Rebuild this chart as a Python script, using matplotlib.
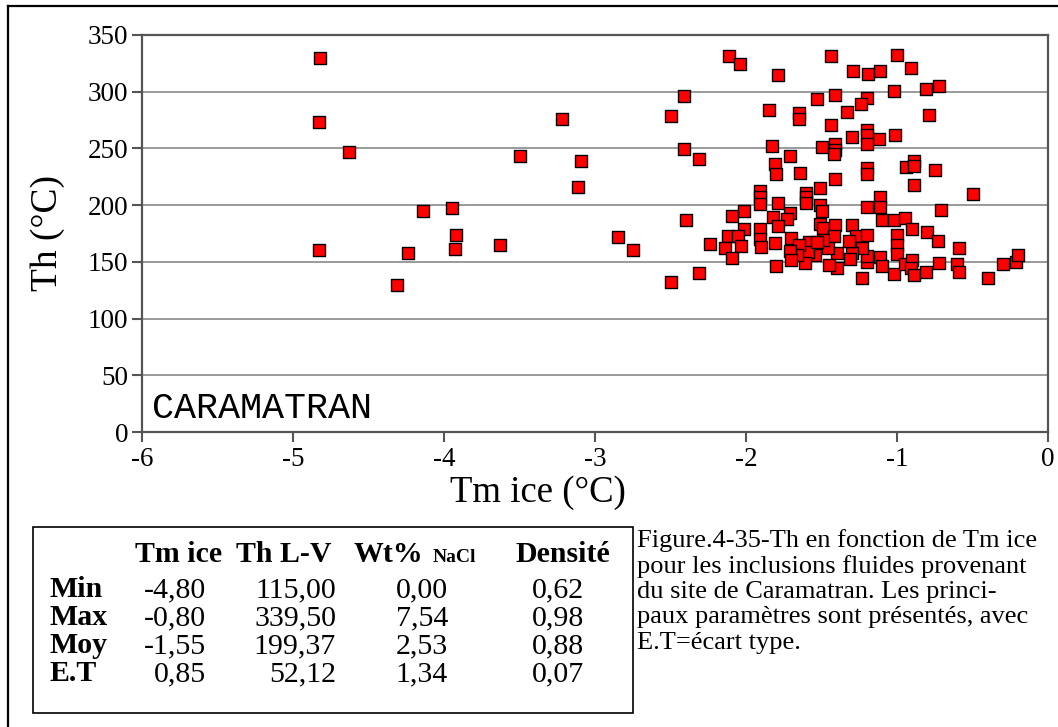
import matplotlib
matplotlib.use("Agg")
import matplotlib.pyplot as plt
from matplotlib.lines import Line2D
from matplotlib.patches import Rectangle

# Tm ice (°C) vs Th (°C), Caramatran fluid inclusions
tm_ice = [
    -4.82, -4.83, -4.63, -4.83, -4.24, -4.14, -4.31, -3.95, -3.92, -3.93,
    -3.63, -3.50, -2.11, -2.04, -1.79, -2.41, -3.22, -2.50, -1.44, -1.29,
    -1.19, -1.11, -1.00, -0.91, -1.02, -0.81, -0.72, -1.41, -1.53, -1.20,
    -1.24, -1.33, -1.85, -1.65, -1.65, -1.44, -0.79, -1.20, -1.20, -1.30,
    -1.12, -1.01, -1.20, -1.41, -1.41, -1.42, -1.50, -1.83, -2.41, -2.31,
    -3.09, -3.11, -1.71, -1.81, -1.80, -1.64, -1.41, -1.51, -1.20, -1.20,
    -0.94, -0.89, -0.89, -0.75, -0.89, -0.50, -1.91, -1.91, -1.91, -1.60,
    -1.60, -1.60, -1.79, -1.51, -1.50, -1.20, -1.11, -1.11, -0.71, -2.01,
    -2.09, -2.40, -1.71, -1.73, -1.82, -1.79, -2.01, -1.91, -1.91, -1.90,
    -2.12, -2.05, -2.03, -2.14, -2.09, -2.24, -2.85, -2.75, -2.31, -2.50,
    -1.81, -1.70, -1.80, -1.51, -1.49, -1.41, -1.42, -1.30, -1.27, -1.20,
    -1.10, -1.02, -0.95, -0.90, -0.80, -0.73, -0.59, -1.00, -1.00, -1.00,
    -1.11, -1.10, -1.02, -0.95, -0.90, -0.91, -0.89, -0.81, -0.72, -0.60,
    -0.59, -0.40, -0.30, -0.21, -0.20, -1.23, -1.20, -1.20, -1.23, -1.30,
    -1.31, -1.32, -1.40, -1.40, -1.45, -1.46, -1.49, -1.54, -1.58, -1.59,
    -1.61, -1.65, -1.66, -1.71, -1.70, -1.53,
]
th = [
    329.5, 273.5, 246.6, 160.1, 157.4, 195.0, 129.3, 197.6, 173.8, 160.9,
    164.8, 243.0, 331.3, 324.8, 314.9, 296.1, 276.2, 278.5, 331.9, 318.4,
    315.5, 318.7, 332.5, 321.3, 300.2, 302.0, 304.6, 296.7, 293.2, 294.3,
    289.1, 282.0, 283.8, 281.2, 275.6, 270.9, 279.1, 266.5, 261.8, 260.3,
    258.6, 262.1, 253.9, 253.6, 248.3, 244.8, 251.0, 252.1, 249.2, 241.0,
    238.6, 216.4, 243.3, 236.3, 227.5, 228.7, 222.8, 215.2, 232.8, 227.8,
    233.4, 238.9, 234.5, 231.0, 217.5, 209.9, 212.8, 207.6, 201.1, 210.5,
    207.0, 201.7, 201.7, 200.5, 194.7, 198.8, 207.0, 198.2, 195.8, 194.7,
    190.6, 187.0, 193.5, 188.2, 189.4, 181.2, 179.4, 178.8, 170.0, 163.0,
    172.4, 173.0, 163.6, 162.4, 153.6, 165.9, 171.8, 160.1, 140.1, 131.9,
    166.5, 170.6, 146.0, 183.8, 179.7, 182.4, 173.0, 182.4, 172.4, 174.1,
    187.0, 187.0, 188.8, 178.8, 175.9, 168.3, 161.8, 173.6, 165.3, 157.1,
    154.2, 146.6, 139.5, 148.3, 151.3, 144.2, 138.4, 140.7, 148.9, 147.8,
    141.3, 136.0, 147.8, 149.5, 156.0, 135.4, 150.1, 154.8, 161.8, 157.7,
    152.4, 168.3, 157.7, 144.2, 147.2, 162.4, 169.7, 156.0, 167.7, 158.9,
    148.9, 165.3, 156.0, 159.5, 151.9, 167.7,
]

x_ticks = [-6, -5, -4, -3, -2, -1, 0]
y_ticks = [0, 50, 100, 150, 200, 250, 300, 350]

# summary table
row_names = ["Min", "Max", "Moy", "E.T"]
col_tm = ["-4,80", "-0,80", "-1,55", "0,85"]
col_th = ["115,00", "339,50", "199,37", "52,12"]
col_wt = ["0,00", "7,54", "2,53", "1,34"]
col_dens = ["0,62", "0,98", "0,88", "0,07"]

caption_lines = [
    "Figure.4-35-Th en fonction de Tm ice",
    "pour les inclusions fluides provenant",
    "du site de Caramatran. Les princi-",
    "paux paramètres sont présentés, avec",
    "E.T=écart type.",
]

plt.rcParams["font.family"] = ["Liberation Serif", "DejaVu Serif"]

W, H = 1058, 727
fig = plt.figure(figsize=(W / 100, H / 100), dpi=100)


def fx(px):
    return px / W


def fy(py):
    return 1 - py / H


ax = fig.add_axes([fx(142), fy(432), fx(1048) - fx(142), fy(35) - fy(432)])
ax.set_xlim(-6, 0)
ax.set_ylim(0, 350)
ax.set_xticks(x_ticks)
ax.set_yticks(y_ticks)
ax.set_xticklabels([str(v) for v in x_ticks])
ax.set_yticklabels([str(v) for v in y_ticks])
ax.tick_params(direction="out", length=7, width=1.5, color="#555555",
               labelsize=19.5, pad=3)
ax.tick_params(axis="x", pad=4)
for v in y_ticks[1:-1]:
    ax.axhline(v, color="#9a9a9a", lw=1.4, zorder=0)
for s in ax.spines.values():
    s.set_color("#555555")
    s.set_linewidth(1.6)

ax.scatter(tm_ice, th, marker="s", s=72, c="#ff0000", edgecolors="#000000",
           linewidths=1.0, zorder=3, clip_on=False)

ax.text(0.011, 0.058, "CARAMATRAN", transform=ax.transAxes,
        family="Liberation Mono", fontsize=26.5, va="center", ha="left")

fig.text(fx(48), fy(233), "Th (°C)", rotation=90, fontsize=27,
         ha="center", va="center")
fig.text(fx(538), fy(493), "Tm ice (°C)", fontsize=26.5,
         ha="center", va="center")

# outer frame (left and top edges)
fig.add_artist(Line2D([fx(8), fx(8)], [0, fy(6)], color="black", lw=1.6))
fig.add_artist(Line2D([fx(8), 1], [fy(6), fy(6)], color="black", lw=1.6))

# table box
fig.add_artist(Rectangle((fx(33), fy(713)), fx(633) - fx(33), fy(527) - fy(713),
                         fill=False, edgecolor="black", lw=1.2))
hdr_y = fy(562)
fs = 21.5
fig.text(fx(179), hdr_y, "Tm ice", fontsize=fs, weight="bold", ha="center", va="baseline")
fig.text(fx(284), hdr_y, "Th L-V", fontsize=fs, weight="bold", ha="center", va="baseline")
fig.text(fx(354), hdr_y, "Wt%", fontsize=fs, weight="bold", ha="left", va="baseline")
fig.text(fx(433), hdr_y, "NaCl", fontsize=14, weight="bold", ha="left", va="baseline")
fig.text(fx(563), hdr_y, "Densité", fontsize=fs, weight="bold", ha="center", va="baseline")
for i, name in enumerate(row_names):
    yy = fy(597 + 28 * i)
    fig.text(fx(49), yy, name, fontsize=fs, weight="bold", ha="left", va="baseline")
    fig.text(fx(206), yy, col_tm[i], fontsize=fs, ha="right", va="baseline")
    fig.text(fx(336), yy, col_th[i], fontsize=fs, ha="right", va="baseline")
    fig.text(fx(422), yy, col_wt[i], fontsize=fs, ha="center", va="baseline")
    fig.text(fx(558), yy, col_dens[i], fontsize=fs, ha="center", va="baseline")

for i, line in enumerate(caption_lines):
    fig.text(fx(637), fy(547 + 25.5 * i), line, fontsize=19,
             ha="left", va="baseline")

fig.savefig("out.png", dpi=100)
